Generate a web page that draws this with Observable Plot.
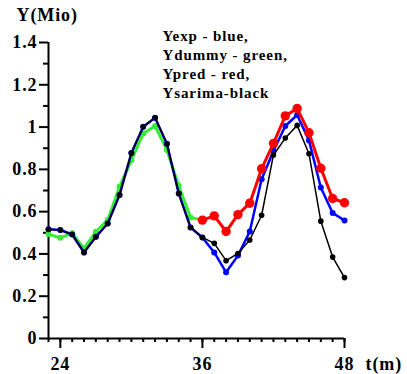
<!DOCTYPE html>
<html>
<head>
<meta charset="utf-8">
<script src="https://cdn.jsdelivr.net/npm/d3@7"></script>
<script src="https://cdn.jsdelivr.net/npm/@observablehq/plot@0.6"></script>
<style>
  html, body { margin: 0; padding: 0; background: #fff; }
  #chart svg, #chart svg text { font-family: 'Liberation Serif', 'Times New Roman', serif; font-weight: bold; }
  #chart svg text { letter-spacing: 0.9px; }
</style>
</head>
<body>
<div id="chart"></div>
<script>
// ---- data ----
const months = [23,24,25,26,27,28,29,30,31,32,33,34,35,36,37,38,39,40,41,42,43,44,45,46,47,48];
const ysarima = [0.517,0.513,0.492,0.407,0.481,0.544,0.679,0.877,1.001,1.044,0.921,0.686,0.525,
                 0.478,0.450,0.368,0.402,0.466,0.583,0.868,0.948,1.008,0.874,0.555,0.385,0.288];
const yexp    = [0.517,0.513,0.492,0.407,0.481,0.544,0.679,0.877,1.001,1.044,0.921,0.686,0.525,
                 0.478,0.407,0.313,0.392,0.506,0.753,0.887,1.005,1.057,0.937,0.714,0.594,0.558];
const dummyMonths = [23,24,25,26,27,28,29,30,31,32,33,34,35,36];
const ydummy  = [0.494,0.476,0.498,0.426,0.505,0.561,0.718,0.843,0.970,1.005,0.892,0.722,0.572,0.560];
const predMonths = [36,37,38,39,40,41,42,43,44,45,46,47,48];
const ypred   = [0.560,0.580,0.506,0.586,0.640,0.803,0.923,1.053,1.088,0.973,0.805,0.662,0.642];

const xMajorTicks = [24,36,48];
const xMinorTicks = [23,24,25,26,27,28,29,30,31,32,33,34,35,36,37,38,39,40,41,42,43,44,45,46,47,48];
const yMajorTicks = [0,0.2,0.4,0.6,0.8,1,1.2,1.4];
const yMinorTicks = [0.1,0.3,0.5,0.7,0.9,1.1,1.3];
const legendLines = ["Yexp - blue,", "Ydummy - green,", "Ypred - red,", "Ysarima-black"];

const sarima = months.map((m, i) => ({m, v: ysarima[i]}));
const exp = months.map((m, i) => ({m, v: yexp[i]}));
const dummy = dummyMonths.map((m, i) => ({m, v: ydummy[i]}));
const pred = predMonths.map((m, i) => ({m, v: ypred[i]}));

const GREEN = "#33ee33", BLUE = "#0000ff", RED = "#ff0000", BLACK = "#000000";
const FONT = "Liberation Serif";

const chart = Plot.plot({
  width: 407,
  height: 374,
  marginLeft: 48,
  marginRight: 63,
  marginTop: 42,
  marginBottom: 36,
  style: {fontFamily: FONT, fontWeight: "bold", fontSize: "18px", color: "black", background: "white", overflow: "visible"},
  x: {domain: [23, 48], axis: null},
  y: {domain: [0, 1.4], axis: null},
  marks: [
    // axis lines
    Plot.ruleX([23], {stroke: BLACK, strokeWidth: 2}),
    Plot.ruleY([0], {stroke: BLACK, strokeWidth: 2}),
    // y ticks
    Plot.axisY(yMinorTicks, {label: null, tickSize: 5, tickFormat: () => "", strokeWidth: 2, strokeOpacity: 1}),
    Plot.axisY(yMajorTicks, {label: null, tickSize: 9, tickPadding: 2, strokeWidth: 2, strokeOpacity: 1,
      tickFormat: d => String(+d.toFixed(1)), fontSize: 18, fontWeight: "bold", fontFamily: FONT, fill: BLACK}),
    // x ticks
    Plot.axisX(xMinorTicks, {label: null, tickSize: 4, tickFormat: () => "", strokeWidth: 2, strokeOpacity: 1}),
    Plot.axisX(xMajorTicks, {label: null, tickSize: 10, tickPadding: 9, strokeWidth: 2, strokeOpacity: 1,
      tickFormat: d => String(d), fontSize: 18, fontWeight: "bold", fontFamily: FONT, fill: BLACK}),
    // series
    Plot.line(dummy, {x: "m", y: "v", stroke: GREEN, strokeWidth: 3}),
    Plot.dot(dummy, {x: "m", y: "v", r: 3, fill: GREEN}),
    Plot.line(exp, {x: "m", y: "v", stroke: BLUE, strokeWidth: 2.5}),
    Plot.dot(exp, {x: "m", y: "v", r: 3, fill: BLUE}),
    Plot.line(pred, {x: "m", y: "v", stroke: RED, strokeWidth: 3}),
    Plot.dot(pred, {x: "m", y: "v", r: 4.7, fill: RED}),
    Plot.line(sarima, {x: "m", y: "v", stroke: BLACK, strokeWidth: 1.5}),
    Plot.dot(sarima, {x: "m", y: "v", r: 2.8, fill: BLACK}),
    // texts
    Plot.text(["Y(Mio)"], {frameAnchor: "top-left", textAnchor: "start", lineAnchor: "bottom",
      dx: -32, dy: -22, fontSize: 18, fontWeight: "bold", fontFamily: FONT, fill: BLACK}),
    Plot.text([legendLines.join("\n")], {frameAnchor: "top-left", textAnchor: "start", lineAnchor: "top",
      dx: 114, dy: -15, fontSize: 15, lineHeight: 1.27, fontWeight: "bold", fontFamily: FONT, fill: BLACK}),
    Plot.text(["t(m)"], {frameAnchor: "bottom-right", textAnchor: "start", lineAnchor: "bottom",
      dx: 21, dy: 31, fontSize: 18, fontWeight: "bold", fontFamily: FONT, fill: BLACK})
  ]
});
document.getElementById("chart").appendChild(chart);
</script>
</body>
</html>
